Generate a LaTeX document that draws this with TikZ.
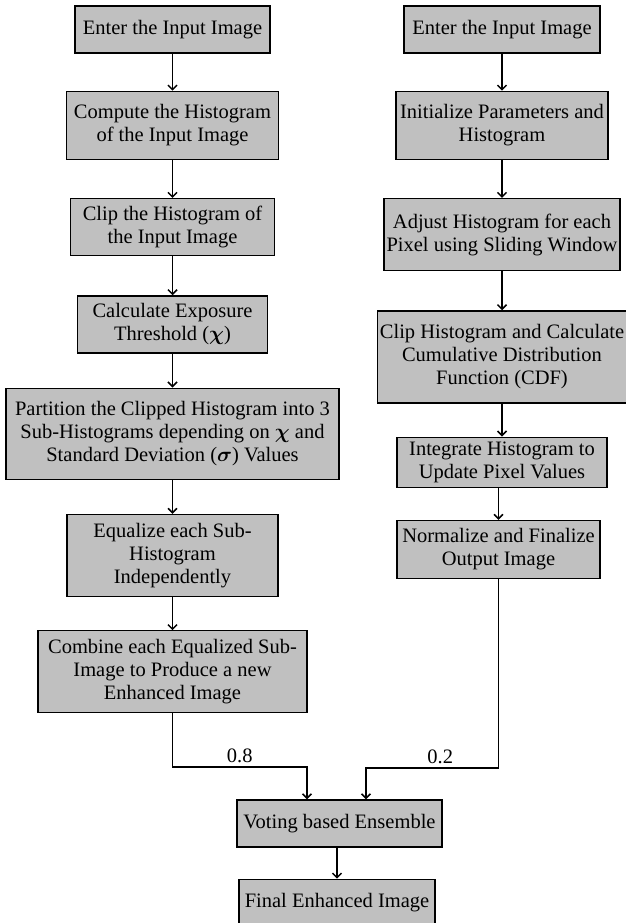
\documentclass[tikz,border=0pt]{standalone}
\usepackage{amsmath}
\usepackage{fontspec}
\setmainfont{Liberation Serif}
\usepackage{tikz}
\usetikzlibrary{arrows.meta,positioning}
\definecolor{boxgray}{HTML}{C0C0C0}
\newcommand{\stagefont}{\fontsize{20.5}{23}\selectfont}
\tikzset{
  stage/.style={draw=black,line width=1.3pt,fill=boxgray,align=center,
                inner sep=0pt,font=\stagefont},
  flow/.style={-{Straight Barb[length=4.5pt,width=9pt]},line width=1.5pt},
  weight/.style={above=0pt,font=\stagefont},
}

\begin{document}
\begin{tikzpicture}[x=1pt,y=1pt]
  \useasboundingbox (0,0) rectangle (626,-923);
  % left branch
  \node[stage,minimum width=195,minimum height=47] (l1) at (172.5,-29.5) {Enter the Input Image};
  \node[stage,minimum width=212,minimum height=68,below=37pt of l1] (l2) {Compute the Histogram\\of the Input Image};
  \node[stage,minimum width=204,minimum height=57,below=38pt of l2] (l3) {Clip the Histogram of\\the Input Image};
  \node[stage,minimum width=190,minimum height=57,below=39pt of l3] (l4) {Calculate Exposure\\Threshold ($\boldsymbol{\chi}$)};
  \node[stage,minimum width=333,minimum height=91,below=34pt of l4] (l5) {Partition the Clipped Histogram into 3\\Sub-Histograms depending on $\boldsymbol{\chi}$ and\\Standard Deviation ($\boldsymbol{\sigma}$) Values};
  \node[stage,minimum width=211,minimum height=82,below=34pt of l5] (l6) {Equalize each Sub-\\Histogram\\Independently};
  \node[stage,minimum width=269,minimum height=82,below=33pt of l6] (l7) {Combine each Equalized Sub-\\Image to Produce a new\\Enhanced Image};
  % right branch
  \node[stage,minimum width=196,minimum height=47] (r1) at (502,-29.5) {Enter the Input Image};
  \node[stage,minimum width=212,minimum height=68,below=37pt of r1] (r2) {Initialize Parameters and\\Histogram};
  \node[stage,minimum width=236,minimum height=72,below=38pt of r2] (r3) {Adjust Histogram for each\\Pixel using Sliding Window};
  \node[stage,minimum width=249,minimum height=92,below=39pt of r3] (r4) {Clip Histogram and Calculate\\Cumulative Distribution\\Function (CDF)};
  \node[stage,minimum width=210,minimum height=50,below=33pt of r4] (r5) {Integrate Histogram to\\Update Pixel Values};
  \node[stage,minimum width=203,minimum height=58,below=32pt of r5,xshift=-3.5pt] (r6) {Normalize and Finalize\\Output Image};
  % ensemble
  \node[stage,minimum width=205,minimum height=47] (vote) at (339.5,-823.5) {Voting based Ensemble};
  \node[stage,minimum width=196,minimum height=46,below=31pt of vote,xshift=-2.5pt] (final) {Final Enhanced Image};
  \coordinate (jl) at (307,-767);
  \coordinate (jr) at (366,-768);

  \draw[flow] (l1)--(l2); \draw[flow] (l2)--(l3); \draw[flow] (l3)--(l4);
  \draw[flow] (l4)--(l5); \draw[flow] (l5)--(l6); \draw[flow] (l6)--(l7);
  \draw[flow] (r1)--(r2); \draw[flow] (r2)--(r3); \draw[flow] (r3)--(r4);
  \draw[flow] (r4.south -| r5)--(r5); \draw[flow] (r5.south -| r6)--(r6);
  \draw[flow] (l7.south) |- node[weight,pos=0.75] (w1) {0.8} (jl) -- (vote.north -| jl);
  \draw[flow] (r6.south) |- node[weight,pos=0.72] (w2) {0.2} (jr) -- (vote.north -| jr);
  \draw[flow] (vote.south -| final)--(final);
\end{tikzpicture}
\end{document}
